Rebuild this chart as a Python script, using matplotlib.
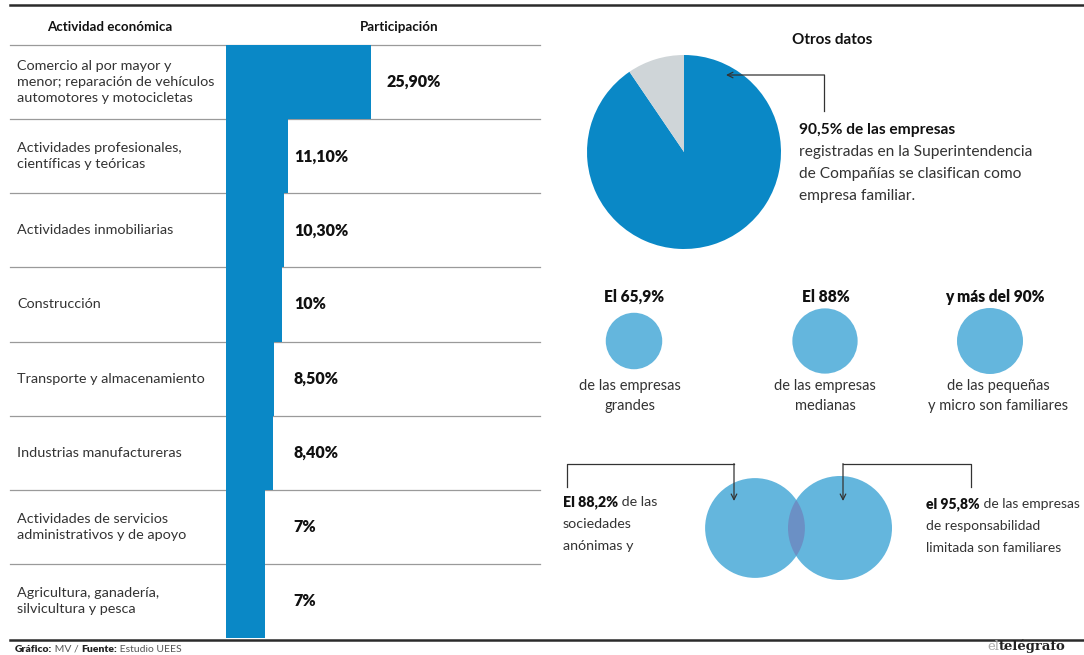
import matplotlib
matplotlib.use("Agg")
import matplotlib.pyplot as plt
from matplotlib.patches import Circle
import numpy as np

plt.rcParams['font.family'] = ['Lato', 'DejaVu Sans']

# ---- data -------------------------------------------------------------
activities = [
    "Comercio al por mayor y\nmenor; reparación de vehículos\nautomotores y motocicletas",
    "Actividades profesionales,\ncientíficas y teóricas",
    "Actividades inmobiliarias",
    "Construcción",
    "Transporte y almacenamiento",
    "Industrias manufactureras",
    "Actividades de servicios\nadministrativos y de apoyo",
    "Agricultura, ganadería,\nsilvicultura y pesca",
]
share = [25.9, 11.1, 10.3, 10.0, 8.5, 8.4, 7.0, 7.0]
share_labels = ["25,90%", "11,10%", "10,30%", "10%", "8,50%", "8,40%", "7%", "7%"]

family_share = [90.5, 9.5]          # empresas familiares vs. resto
size_titles = ["El 65,9%", "El 88%", "y más del 90%"]
size_values = [65.9, 88.0, 90.0]
size_texts = ["de las empresas\ngrandes", "de las empresas\nmedianas",
              "de las pequeñas\ny micro son familiares"]
venn_values = [88.2, 95.8]          # sociedades anónimas, responsabilidad limitada

# ---- style ------------------------------------------------------------
BLUE = "#0a88c6"
LIGHT = "#64b6dd"
OVERLAP = "#6b90c5"
GREY_SLICE = "#cfd5d8"
TXT = "#333333"

W, H = 1084, 655
fig = plt.figure(figsize=(W / 100, H / 100), dpi=100)


def fx(px):
    return px / W


def fy(py):
    return 1 - py / H


def pixel_axes(z):
    a = fig.add_axes([0, 0, 1, 1], zorder=z)
    a.set_xlim(0, W)
    a.set_ylim(H, 0)
    a.patch.set_alpha(0)
    a.axis("off")
    return a


# overlays in pixel coordinates: rules/text underneath, callouts on top
ov = pixel_axes(0)
top = pixel_axes(5)

# ---- bar table ----------------------------------------------------------
table_top, table_bot = 45, 638
bar_left, bar_right = 226, 540
px_per_pct = 5.6
n = len(share)
row_h = (table_bot - table_top) / n

axb = fig.add_axes([fx(bar_left), fy(table_bot), fx(bar_right - bar_left),
                    (table_bot - table_top) / H], zorder=2)
axb.patch.set_alpha(0)
ypos = np.arange(n)
axb.barh(ypos, share, height=1.0, color=BLUE, edgecolor="none")
axb.set_xlim(0, (bar_right - bar_left) / px_per_pct)
axb.set_ylim(n - 0.5, -0.5)
axb.axis("off")
for i, (v, lab) in enumerate(zip(share, share_labels)):
    xl = v + 2.7 if v > 20 else 12.1
    axb.text(xl, i, lab, ha="left", va="center", fontsize=11.5,
             fontweight="heavy", color="#111111")

# row separators
for i in range(0, n):
    y = table_top + i * row_h
    ov.plot([10, 540], [y, y], color="#9a9a9a", lw=0.9)

for i, name in enumerate(activities):
    y = table_top + (i + 0.5) * row_h
    ov.text(17, y, name, ha="left", va="center", fontsize=10.4, color=TXT,
            linespacing=1.4)

ov.text(110, 27, "Actividad económica", ha="center", va="center",
        fontsize=9.6, fontweight="bold", color="#111111")
ov.text(399, 27, "Participación", ha="center", va="center",
        fontsize=9.6, fontweight="bold", color="#111111")

# heavy frame rules
ov.plot([10, W], [5, 5], color="#2b2b2b", lw=1.8)
ov.plot([10, W], [639.5, 639.5], color="#2b2b2b", lw=1.8)

# ---- pie ----------------------------------------------------------------
cx, cy, r = 684, 152, 97
axp = fig.add_axes([fx(cx - r), fy(cy + r), 2 * r / W, 2 * r / H], zorder=1)
axp.pie(family_share, colors=[BLUE, GREY_SLICE], startangle=90,
        counterclock=False, radius=1.0, wedgeprops=dict(linewidth=0))
axp.set_xlim(-1, 1)
axp.set_ylim(-1, 1)
axp.set_aspect("auto")
axp.axis("off")

ov.text(832, 40, "Otros datos", ha="center", va="center", fontsize=11,
        fontweight="bold", color="#111111")
top.plot([824, 824], [111, 75], color="#333333", lw=0.9)
top.annotate("", xy=(726, 75), xytext=(824.4, 75),
             arrowprops=dict(arrowstyle="->", color="#333333", lw=0.9,
                             shrinkA=0, shrinkB=0))
ov.text(799, 130, "90,5% de las empresas", ha="left", va="center",
        fontsize=11.2, fontweight="bold", color="#111111")
pie_lines = ["registradas en la Superintendencia",
             "de Compañías se clasifican como",
             "empresa familiar."]
for j, line in enumerate(pie_lines):
    ov.text(799, 152 + 22 * j, line, ha="left", va="center", fontsize=11.2,
            color=TXT)

# ---- size circles ---------------------------------------------------------
k = 33 / np.sqrt(90)
centers_x = [634, 825, 990]
title_x = [634, 826, 995]
text_x = [630, 825, 998]
for xc, tx, sx, title, v, txt in zip(centers_x, title_x, text_x,
                                     size_titles, size_values, size_texts):
    ov.add_patch(Circle((xc, 341), k * np.sqrt(v), color=LIGHT, lw=0))
    ov.text(tx, 297, title, ha="center", va="center", fontsize=11.2,
            fontweight="heavy", color="#111111")
    ov.text(sx, 396, txt, ha="center", va="center", fontsize=10.5,
            color=TXT, linespacing=1.55)

# ---- venn -------------------------------------------------------------------
kv = 52 / np.sqrt(95.8)
left = Circle((755, 528), kv * np.sqrt(venn_values[0]), color=LIGHT, lw=0)
right = Circle((840, 528), kv * np.sqrt(venn_values[1]), color=LIGHT, lw=0)
ov.add_patch(left)
ov.add_patch(right)
lens = Circle((840, 528), kv * np.sqrt(venn_values[1]), color=OVERLAP, lw=0)
ov.add_patch(lens)
lens.set_clip_path(Circle((755, 528), kv * np.sqrt(venn_values[0]),
                          transform=ov.transData))

for xs, xe in [(567, 734), (971, 843)]:
    top.plot([xs, xs, xe], [487, 464, 464], color="#333333", lw=0.9)
    top.annotate("", xy=(xe, 501), xytext=(xe, 463.6),
                 arrowprops=dict(arrowstyle="->", color="#333333", lw=0.9,
                                 shrinkA=0, shrinkB=0))

t = ov.text(563, 502, "El 88,2%", ha="left", va="center", fontsize=10.3,
            fontweight="heavy", color="#111111")
ov.annotate(" de las", xycoords=t, xy=(1, 0.5), va="center", ha="left",
            fontsize=10.3, color=TXT)
ov.text(563, 524, "sociedades", ha="left", va="center", fontsize=10.3,
        color=TXT)
ov.text(563, 546, "anónimas y", ha="left", va="center", fontsize=10.3,
        color=TXT)

t2 = ov.text(926, 504, "el 95,8%", ha="left", va="center", fontsize=10,
             fontweight="heavy", color="#111111")
ov.annotate(" de las empresas", xycoords=t2, xy=(1, 0.5), va="center",
            ha="left", fontsize=10, color=TXT)
ov.text(926, 526, "de responsabilidad", ha="left", va="center", fontsize=10,
        color=TXT)
ov.text(926, 548, "limitada son familiares", ha="left", va="center",
        fontsize=10, color=TXT)

# ---- footer -------------------------------------------------------------------
f1 = ov.text(15, 649, "Gráfico:", ha="left", va="center", fontsize=7.5,
             fontweight="heavy", color="#222222")
f2 = ov.annotate(" MV / ", xycoords=f1, xy=(1, 0.5), va="center", ha="left",
                 fontsize=7.5, color="#555555")
f3 = ov.annotate("Fuente:", xycoords=f2, xy=(1, 0.5), va="center", ha="left",
                 fontsize=7.5, fontweight="heavy", color="#222222")
ov.annotate(" Estudio UEES", xycoords=f3, xy=(1, 0.5), va="center", ha="left",
            fontsize=7.5, color="#555555")
g1 = ov.text(987, 646, "el", ha="left", va="center", fontsize=9.5,
             color="#aaaaaa", family=["DejaVu Serif"])
ov.annotate("telégrafo", xycoords=g1, xy=(1, 0.5), va="center", ha="left",
            fontsize=9.5, fontweight="bold", color="#222222",
            family=["DejaVu Serif"])

fig.savefig("out.png", dpi=100)
